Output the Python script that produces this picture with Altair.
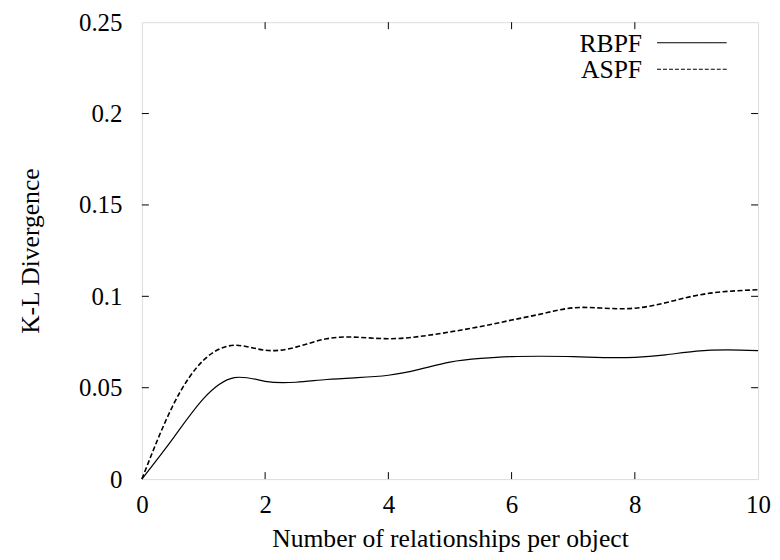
import altair as alt
import pandas as pd

# ---- data ----
x_vals = [0, 0.5, 1, 1.5, 2, 2.5, 3, 3.5, 4, 4.5, 5, 5.5, 6, 6.5, 7, 7.5, 8, 8.5, 9, 9.5, 10]
rbpf = [0, 0.022, 0.044, 0.0555, 0.0535, 0.053, 0.0545, 0.0555, 0.0568, 0.060, 0.0640,
        0.066, 0.0670, 0.0672, 0.0670, 0.0665, 0.0666, 0.0680, 0.0700, 0.0707, 0.0703]
aspf = [0, 0.040, 0.065, 0.0732, 0.0705, 0.0722, 0.0768, 0.0776, 0.0768, 0.0780, 0.0805,
        0.0835, 0.0870, 0.0905, 0.0937, 0.0935, 0.0935, 0.0965, 0.1005, 0.1027, 0.1036]
series_names = ["RBPF", "ASPF"]
x_ticks = [0, 2, 4, 6, 8, 10]
y_ticks = [0, 0.05, 0.1, 0.15, 0.2, 0.25]
x_title = "Number of relationships per object"
y_title = "K-L Divergence"

W, H = 619, 459
FONT = "Times New Roman, Liberation Serif, Times, serif"
FS = 25
FS_T = 25.7
TICK = 7

df = pd.DataFrame({
    "x": x_vals * 2,
    "y": rbpf + aspf,
    "series": [series_names[0]] * len(x_vals) + [series_names[1]] * len(x_vals),
})

xscale = alt.Scale(domain=[0, 10], nice=False, zero=False)
yscale = alt.Scale(domain=[0, 0.25], nice=False, zero=False)

xaxis = alt.Axis(values=x_ticks, format="~g", ticks=False, tickSize=0, domain=False, grid=False,
                 labelFont=FONT, labelFontSize=FS, labelColor="black",
                 labelBaseline="alphabetic", labelPadding=34, labelFlush=False,
                 titleFont=FONT, titleFontSize=FS_T, titleFontWeight="normal", titleColor="black",
                 titleBaseline="alphabetic", titleY=68)
yaxis = alt.Axis(values=y_ticks, format="~g", ticks=False, tickSize=0, domain=False, grid=False,
                 labelFont=FONT, labelFontSize=FS, labelColor="black",
                 labelPadding=20, labelFlush=False,
                 titleFont=FONT, titleFontSize=FS_T, titleFontWeight="normal", titleColor="black",
                 titleBaseline="alphabetic", titleX=-104, titleY=H / 2, titleAngle=270)

solid = alt.Chart(df[df.series == series_names[0]]).mark_line(
    color="black", strokeWidth=1.2, interpolate="natural"
).encode(
    x=alt.X("x:Q", scale=xscale, axis=xaxis, title=x_title),
    y=alt.Y("y:Q", scale=yscale, axis=yaxis, title=y_title),
)
dashed = alt.Chart(df[df.series == series_names[1]]).mark_line(
    color="black", strokeWidth=1.6, strokeDash=[5, 2.5], interpolate="natural"
).encode(
    x=alt.X("x:Q", scale=xscale, title=x_title),
    y=alt.Y("y:Q", scale=yscale, title=y_title),
)

inner_x = [t for t in x_ticks if 0 < t < 10]
inner_y = [t for t in y_ticks if 0 < t < 0.25]
xt = pd.DataFrame({"x": inner_x})
yt = pd.DataFrame({"y": inner_y})

tick_bottom = alt.Chart(xt).mark_rule(color="black", strokeWidth=1).encode(
    x=alt.X("x:Q", scale=xscale, title=x_title), y=alt.value(H), y2=alt.value(H - TICK))
tick_top = alt.Chart(xt).mark_rule(color="black", strokeWidth=1).encode(
    x=alt.X("x:Q", scale=xscale, title=x_title), y=alt.value(0), y2=alt.value(TICK))
tick_left = alt.Chart(yt).mark_rule(color="black", strokeWidth=1).encode(
    y=alt.Y("y:Q", scale=yscale, title=y_title), x=alt.value(0), x2=alt.value(TICK))
tick_right = alt.Chart(yt).mark_rule(color="black", strokeWidth=1).encode(
    y=alt.Y("y:Q", scale=yscale, title=y_title), x=alt.value(W), x2=alt.value(W - TICK))

# key (gnuplot style: label on the left, line sample on the right)
legend_layers = []
dashes = [[1, 0], [4, 2]]
for i, name in enumerate(series_names):
    ydf = pd.DataFrame({"name": [name]})
    ypos = 20.7 + 26.6 * i
    legend_layers.append(
        alt.Chart(ydf).mark_text(font=FONT, fontSize=FS_T, align="right", baseline="alphabetic",
                                 color="black").encode(
            text="name:N", x=alt.value(502.5), y=alt.value(ypos + 8.8)))
    legend_layers.append(
        alt.Chart(ydf).mark_rule(color="black", strokeWidth=1.1, strokeDash=dashes[i]).encode(
            x=alt.value(517.5), x2=alt.value(587.5), y=alt.value(ypos)))

chart = alt.layer(
    solid, dashed, tick_bottom, tick_top, tick_left, tick_right, *legend_layers
).properties(
    width=W, height=H,
    autosize=alt.AutoSizeParams(type="none"),
    padding={"left": 134.5, "top": 13, "right": 14, "bottom": 72},
).configure_view(
    stroke="black", strokeWidth=1.3
).configure(background="white")

chart.save("out.html", embed_options={"renderer": "svg", "actions": False})
